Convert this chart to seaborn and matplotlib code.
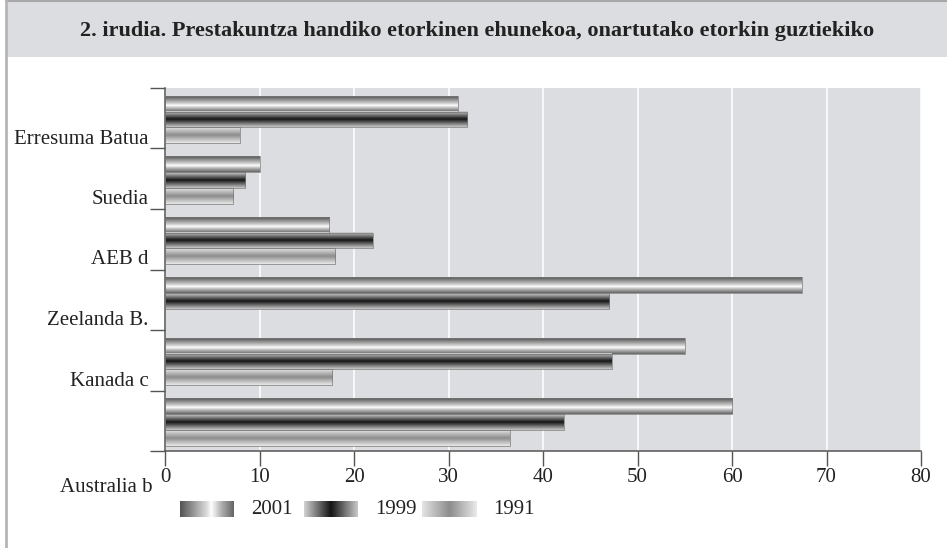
import numpy as np
import pandas as pd
import matplotlib.pyplot as plt
import seaborn as sns
from matplotlib.patches import Rectangle
from matplotlib.lines import Line2D

# data
countries = ['Erresuma Batua', 'Suedia', 'AEB d', 'Zeelanda B.', 'Kanada c', 'Australia b']
years = ['2001', '1999', '1991']
v2001 = [31, 10, 17.4, 67.4, 55, 60]
v1999 = [32, 8.5, 22, 47, 47.3, 42.2]
v1991 = [7.9, 7.2, 18, 0, 17.7, 36.5]
xticks = [0, 10, 20, 30, 40, 50, 60, 70, 80]
title = '2. irudia. Prestakuntza handiko etorkinen ehunekoa, onartutako etorkin guztiekiko'

df = pd.DataFrame({'country': countries * 3,
                   'year': np.repeat(years, len(countries)),
                   'value': v2001 + v1999 + v1991})

# cylinder-like shading of each series (position, grey level)
ramps = {'2001': ([0, .5, .58, .78, 1], [.33, .86, 1, .68, .40]),
         '1999': ([0, .5, 1], [.82, .08, .78]),
         '1991': ([0, .5, 1], [.89, .55, .91])}

def ramp(stops, n=64):
    pos, val = stops
    return np.interp(np.linspace(0, 1, n), pos, val)

sns.set_theme(style='white')
plt.rcParams['font.family'] = ['Liberation Serif', 'DejaVu Serif']

fig = plt.figure(figsize=(9.47, 5.48), dpi=100)

#%% title banner and frame
fig.patches.append(Rectangle((6/947, 1 - 57/548), 1, 57/548, transform=fig.transFigure,
                             facecolor='#dcdde0', edgecolor='none'))
fig.add_artist(Line2D([6/947, 1], [1 - 1/548, 1 - 1/548], color='#a8a8a8', lw=1.5))
fig.add_artist(Line2D([6/947, 6/947], [0, 1], color='#b5b5b5', lw=2))
fig.text(0.504, 1 - 31/548, title, ha='center', va='center', fontsize=16,
         fontweight='bold', color='#222')

#%% bars
ax = fig.add_axes([165/947, 1 - 451/548, 756/947, 363/548])
ax.set_facecolor('#dcdde0')
sns.barplot(data=df, x='value', y='country', hue='year', orient='h', width=0.78,
            dodge=True, legend=False, ax=ax, palette=['#999999', '#444444', '#bbbbbb'],
            saturation=1, errorbar=None)

for year, cont in zip(years, ax.containers):
    g = ramp(ramps[year])[:, None]
    for bar in cont:
        w = bar.get_width()
        if not w > 0:
            bar.set_visible(False)
            continue
        x0, y0, h = bar.get_x(), bar.get_y(), bar.get_height()
        ax.imshow(g, extent=[x0, x0 + w, y0 + h, y0], aspect='auto', cmap='gray',
                  vmin=0, vmax=1, zorder=2, interpolation='bilinear')
        bar.set_facecolor('none')
        bar.set_edgecolor('#7a7a7a')
        bar.set_linewidth(0.5)
        bar.set_zorder(3)

ax.set_xlim(0, 80)
ax.set_ylim(len(countries) - 0.52, -0.52)
ax.set_xticks(xticks)
bounds = np.arange(len(countries) + 1) - 0.52
ax.set_yticks(bounds)
ax.set_yticklabels([''] + countries[:-1] + [''], va='bottom')
ax.tick_params(axis='both', direction='out', length=10.8, width=1.0, color='#555',
               labelsize=15, labelcolor='#222', bottom=True, left=True)
ax.tick_params(axis='x', pad=1.5)
ax.tick_params(axis='y', pad=1)
ax.xaxis.grid(True, color='white', lw=1.1)
ax.yaxis.grid(False)
ax.set_axisbelow(True)
for s in ['top', 'right']:
    ax.spines[s].set_visible(False)
for s in ['left', 'bottom']:
    ax.spines[s].set_color('#555')
    ax.spines[s].set_linewidth(1.1)
ax.set_xlabel('')
ax.set_ylabel('')
# last country label sits below the axis in the original
ax.annotate(countries[-1], xy=(0, 0), xycoords='axes fraction', xytext=(-9.0, -26.0),
            textcoords='offset points', ha='right', va='center', fontsize=15, color='#222')

#%% legend with shaded swatches
for year, sx in zip(years, [180, 304, 422]):
    lax = fig.add_axes([sx/947, 1 - 517/548, 54/947, 16/548])
    lax.imshow(ramp(ramps[year])[None, :], aspect='auto', cmap='gray', vmin=0, vmax=1,
               interpolation='bilinear')
    lax.axis('off')
    fig.text((sx + 71)/947, 1 - 509/548, year, ha='left', va='center', fontsize=15, color='#222')

fig.savefig('out.png', dpi=100)
